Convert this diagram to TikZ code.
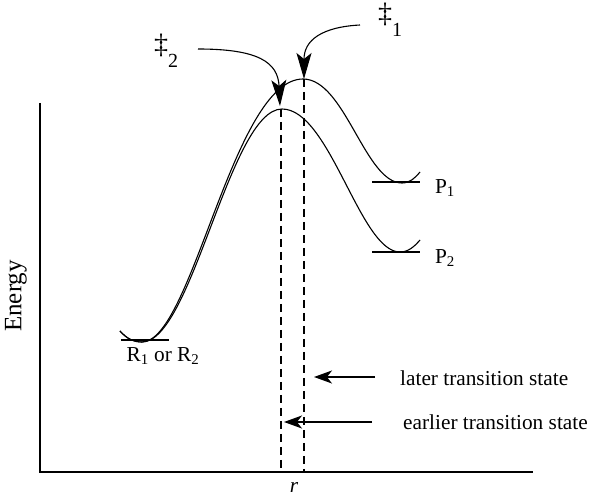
\documentclass[tikz,border=0pt]{standalone}
\usepackage{fontspec}
\setmainfont{Liberation Serif}
\usetikzlibrary{arrows.meta}
\begin{document}
\begin{tikzpicture}[x=1pt,y=-1pt,
  curve/.style={line width=1.1pt},
  level/.style={line width=1.1pt},
  axis/.style={line width=1.1pt},
  ts/.style={line width=1.1pt,dash pattern=on 8pt off 5pt},
  bigarrow/.style={line width=1.1pt,-{Stealth[length=26pt,width=15pt,inset=6pt]}},
  smallarrow/.style={line width=1.1pt,-{Stealth[length=18pt,width=13pt,inset=5pt]}},
  lbl/.style={font=\fontsize{21.3}{25}\selectfont,inner sep=0pt},
  ddlbl/.style={font=\fontsize{28}{32}\selectfont,inner sep=0pt}]
\useasboundingbox (0,0) rectangle (590,497);
% axes
\coordinate (ytop) at (40,103);
\coordinate (o) at (40,472);
\coordinate (xend) at (533,472);
\draw[axis] (ytop) -- (o) -- (xend);
\node[lbl,font=\fontsize{25}{30}\selectfont,rotate=90] (energy) at (16,296) {Energy};
\node[lbl,font=\fontsize{21.3}{25}\selectfont\itshape] (r) at (294,487) {r};
% levels
\coordinate (rl1) at (121,340); \coordinate (rl2) at (169,340);
\coordinate (p1a) at (372,182); \coordinate (p1b) at (420,182);
\coordinate (p2a) at (372,252); \coordinate (p2b) at (420,252);
\draw[level] (rl1) -- (rl2);
\draw[level] (p1a) -- (p1b);
\draw[level] (p2a) -- (p2b);
% energy curves
\draw[curve] (120,331) .. controls (127,339) and (134,342) .. (142,342)
  .. controls (192,342) and (233,79) .. (303,79)
  .. controls (345,79) and (365,183) .. (402,183)
  .. controls (410,183) and (415,178) .. (420,172);
\draw[curve] (120,331) .. controls (127,339) and (134,342) .. (142,342)
  .. controls (192,342) and (230,109) .. (282,109)
  .. controls (330,109) and (360,252) .. (400,252)
  .. controls (408,252) and (414,247) .. (420,240);
% transition state lines
\coordinate (ts1top) at (304,79); \coordinate (ts1bot) at (304,472);
\coordinate (ts2top) at (281,109); \coordinate (ts2bot) at (281,472);
\draw[ts] (ts1top) -- (ts1bot);
\draw[ts] (ts2top) -- (ts2bot);
% labels
\node[lbl] (P1) at (445,188) {P\textsubscript{1}};
\node[lbl] (P2) at (445,258) {P\textsubscript{2}};
\node[lbl] (R) at (163,356) {R\textsubscript{1} or R\textsubscript{2}};
\node[ddlbl,anchor=west] (dd2) at (154,51) {‡\raisebox{-1.1ex}{\fontsize{20}{24}\selectfont 2}};
\node[ddlbl,anchor=west] (dd1) at (378,20) {‡\raisebox{-1.1ex}{\fontsize{20}{24}\selectfont 1}};
\node[lbl,anchor=west] (later) at (400,378) {later transition state};
\node[lbl,anchor=west] (earlier) at (403,422) {earlier transition state};
% arrows
\coordinate (a2s) at (198,49); \coordinate (a2e) at (280,106);
\coordinate (a1s) at (360,25); \coordinate (a1e) at (304,79);
\draw[bigarrow] (a2s) .. controls (258,49) and (278,62) .. (a2e);
\draw[bigarrow] (a1s) .. controls (322,27) and (304,40) .. (a1e);
\coordinate (l1s) at (375,377); \coordinate (l1e) at (314,377);
\coordinate (l2s) at (372,422); \coordinate (l2e) at (284,422);
\draw[smallarrow] (l1s) -- (l1e);
\draw[smallarrow] (l2s) -- (l2e);
\end{tikzpicture}
\end{document}
